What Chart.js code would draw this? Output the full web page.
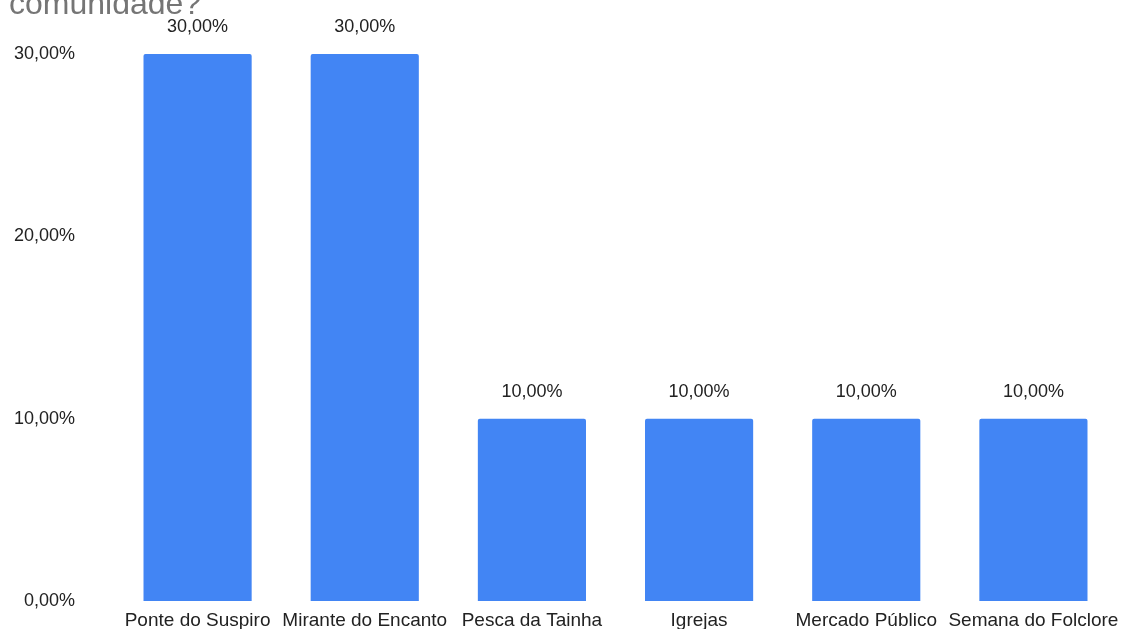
<!DOCTYPE html>
<html>
<head>
<meta charset="utf-8">
<script src="https://cdn.jsdelivr.net/npm/chart.js@4"></script>
<style>
  html, body { margin: 0; padding: 0; background: #fff; }
</style>
</head>
<body>
<canvas id="Bar-Chart" width="1121" height="629"></canvas>
<script>
let titleText = 'comunidade?';
let labels = ['Ponte do Suspiro', 'Mirante do Encanto', 'Pesca da Tainha', 'Igrejas', 'Mercado Público', 'Semana do Folclore'];
let values = [30, 30, 10, 10, 10, 10];
let yTicks = [0, 10, 20, 30];

function pct(v) {
    return v.toFixed(2).replace('.', ',') + '%';
}

// title is cropped at the top of the picture, draw it by hand
let titlePlugin = {
    id: 'cutTitle',
    afterDraw(chart) {
        let ctx = chart.ctx;
        ctx.save();
        ctx.font = '32px Arial, "Liberation Sans"';
        ctx.fillStyle = '#757575';
        ctx.textAlign = 'left';
        ctx.textBaseline = 'alphabetic';
        ctx.fillText(titleText, 9, 14);
        ctx.restore();
    }
};

// value labels above bars
let valuePlugin = {
    id: 'valueLabels',
    afterDatasetsDraw(chart) {
        let ctx = chart.ctx;
        let meta = chart.getDatasetMeta(0);
        ctx.save();
        ctx.font = '18px Arial, "Liberation Sans"';
        ctx.fillStyle = '#222222';
        ctx.textAlign = 'center';
        ctx.textBaseline = 'alphabetic';
        meta.data.forEach((bar, i) => {
            ctx.fillText(pct(values[i]), bar.x, bar.y - 22);
        });
        ctx.restore();
    }
};

let myChart = document.getElementById('Bar-Chart').getContext('2d');

let chart = new Chart(myChart, {
    type: 'bar',
    data: {
        labels: labels,
        datasets: [{
            data: values,
            backgroundColor: '#4285F4',
            borderRadius: 2,
            borderSkipped: 'bottom',
            barPercentage: 0.647,
            categoryPercentage: 1
        }]
    },
    options: {
        responsive: false,
        animation: false,
        layout: { padding: { top: 54, right: 4, left: 0, bottom: 0 } },
        plugins: {
            legend: { display: false },
            tooltip: { enabled: false },
            title: { display: false }
        },
        scales: {
            x: {
                grid: { display: false, drawTicks: false },
                border: { display: false },
                afterFit(scale) {
                    scale.height = 28;
                    scale.paddingLeft = 0;
                    scale.paddingRight = 0;
                },
                ticks: {
                    color: '#222222',
                    font: { family: 'Arial, "Liberation Sans"', size: 19 },
                    padding: 8,
                    maxRotation: 0,
                    autoSkip: false
                }
            },
            y: {
                min: 0,
                max: 30,
                grid: { display: false, drawTicks: false },
                border: { display: false },
                afterFit(scale) {
                    scale.width = 114;
                    scale.paddingTop = 0;
                    scale.paddingBottom = 0;
                },
                afterBuildTicks(scale) { scale.ticks = yTicks.map(v => ({ value: v })); },
                ticks: {
                    color: '#222222',
                    font: { family: 'Arial, "Liberation Sans"', size: 18 },
                    padding: 39,
                    callback: v => pct(v)
                }
            }
        }
    },
    plugins: [titlePlugin, valuePlugin]
});
</script>
</body>
</html>
